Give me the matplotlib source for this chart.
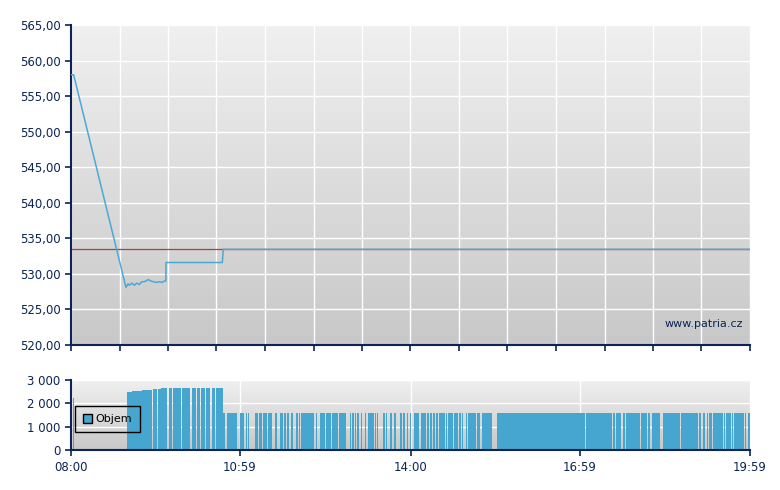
import matplotlib
matplotlib.use("Agg")
import matplotlib.pyplot as plt
import numpy as np
from matplotlib.colors import LinearSegmentedColormap
from matplotlib.patches import Patch

# price line, minutes after 08:00
price_min = [0, 2.8, 58.2, 60.4, 61.8, 64.3, 67.1, 69.6, 72.4, 74.9, 77.7, 81.9,
             84.5, 87.2, 90.8, 93.6, 96.5, 98.9, 100.4, 100.6, 160.2, 161.3, 719]
price_val = [558.0, 558.0, 528.1, 528.6, 528.4, 528.7, 528.4, 528.7, 528.5, 528.9,
             528.9, 529.2, 529.0, 528.9, 528.8, 528.9, 528.8, 529.0, 529.0, 531.6,
             531.6, 533.45, 533.45]
prev_close = 533.45

# volume bars (start minute, end minute, volume)
vol_start = [2, 59, 65, 75, 87, 92, 95, 104, 108, 118, 128, 133, 138, 143, 149, 154]
vol_end = [3, 65, 75, 86, 91, 95, 102, 107, 116, 126, 132, 137, 142, 147, 153, 161]
vol_value = [2240, 2490, 2530, 2570, 2610, 2610, 2660, 2660, 2660, 2660, 2660,
             2660, 2660, 2660, 2660, 2660]

low_runs = [(161, 163), (165, 176), (179, 183), (185, 186), (187, 188), (195, 198),
            (199, 202), (203, 206), (207, 208), (209, 213), (216, 218), (221, 224),
            (226, 228), (229, 231), (233, 235), (238, 240), (241, 243), (244, 257),
            (259, 261), (264, 269), (270, 275), (276, 283), (284, 291), (295, 296),
            (298, 300), (301, 302), (303, 305), (307, 308), (311, 312), (314, 321),
            (322, 323), (324, 325), (330, 333), (334, 335), (338, 340), (342, 344),
            (348, 351), (352, 354), (356, 357), (359, 360), (363, 369), (371, 376),
            (377, 379), (380, 382), (383, 385), (387, 389), (390, 396), (397, 398),
            (399, 404), (406, 410), (411, 413), (414, 415), (418, 419), (420, 429),
            (430, 433), (435, 446), (451, 544), (545, 573), (574, 576), (577, 582),
            (584, 587), (588, 603), (604, 610), (611, 613), (615, 624), (627, 645),
            (646, 664), (665, 667), (669, 671), (673, 675), (676, 679), (680, 690),
            (691, 692), (694, 699), (700, 701), (702, 710), (711, 713), (714, 715),
            (717, 719)]
low_value = 1600

price_ticks = [520, 525, 530, 535, 540, 545, 550, 555, 560, 565]
vol_ticks = [0, 1000, 2000, 3000]
vol_tick_labels = ["0", "1 000", "2 000", "3 000"]
time_ticks = [0, 179, 360, 539, 719]
time_labels = ["08:00", "10:59", "14:00", "16:59", "19:59"]

navy = "#0b2455"
blue_line = "#4ba9d5"
bar_blue = "#47a6cf"
bg_cmap = LinearSegmentedColormap.from_list("bg", ["#c8c8c8", "#f0f0f0"])

plt.rcParams["font.family"] = "DejaVu Sans"

fig = plt.figure(figsize=(7.8, 4.9), dpi=100)
ax = fig.add_axes([71 / 780, 1 - 345 / 490, 679 / 780, 320 / 490])
axv = fig.add_axes([71 / 780, 1 - 450 / 490, 679 / 780, 70 / 490])


def style(a):
    grad = np.linspace(0, 1, 256).reshape(-1, 1)
    a.imshow(grad, cmap=bg_cmap, extent=(0, 1, 0, 1), transform=a.transAxes,
             aspect="auto", origin="lower", zorder=0)
    a.set_axisbelow(True)
    a.grid(True, color="white", lw=1.0)
    for s in ["top", "right"]:
        a.spines[s].set_visible(False)
    for s in ["left", "bottom"]:
        a.spines[s].set_color(navy)
        a.spines[s].set_linewidth(1.5)
    a.tick_params(colors=navy, labelcolor=navy, length=4, width=1.2, labelsize=8.5)
    a.set_xlim(0, 719)


# price panel
style(ax)
ax.axhline(prev_close, color="#b83a3a", lw=0.9, zorder=2)
ax.plot(price_min, price_val, color=blue_line, lw=1.1, zorder=3)
ax.set_ylim(520, 565)
ax.set_yticks(price_ticks)
ax.set_yticklabels([("%.2f" % v).replace(".", ",") for v in price_ticks])
ax.set_xticks(np.linspace(0, 719, 15))
ax.set_xticklabels([])
ax.text(0.99, 0.065, "www.patria.cz", transform=ax.transAxes, ha="right",
        va="center", color=navy, fontsize=8)

# volume panel
style(axv)
axv.bar(vol_start, vol_value, width=np.array(vol_end) - np.array(vol_start),
        align="edge", color=bar_blue, lw=0, zorder=2)
lo_s = [r[0] for r in low_runs]
lo_w = [r[1] - r[0] for r in low_runs]
axv.bar(lo_s, [low_value] * len(low_runs), width=lo_w, align="edge",
        color=bar_blue, lw=0, zorder=2)
axv.set_ylim(0, 3000)
axv.set_yticks(vol_ticks)
axv.set_yticklabels(vol_tick_labels)
axv.set_xticks(time_ticks)
axv.set_xticklabels(time_labels)
axv.tick_params(axis="x", pad=4)

leg = axv.legend(handles=[Patch(facecolor=bar_blue, edgecolor="black", lw=1, label="Objem")],
                 loc="center left", bbox_to_anchor=(0.006, 0.44), frameon=True,
                 fancybox=False, edgecolor="black", facecolor="none", fontsize=8,
                 handlelength=0.8, handleheight=0.8, handletextpad=0.35,
                 borderpad=0.7, borderaxespad=0)
leg.get_frame().set_linewidth(1.0)
leg.get_frame().set_alpha(None)
leg.get_frame().set_edgecolor("black")
leg.get_frame().set_facecolor("none")

fig.savefig("out.png", dpi=100)
